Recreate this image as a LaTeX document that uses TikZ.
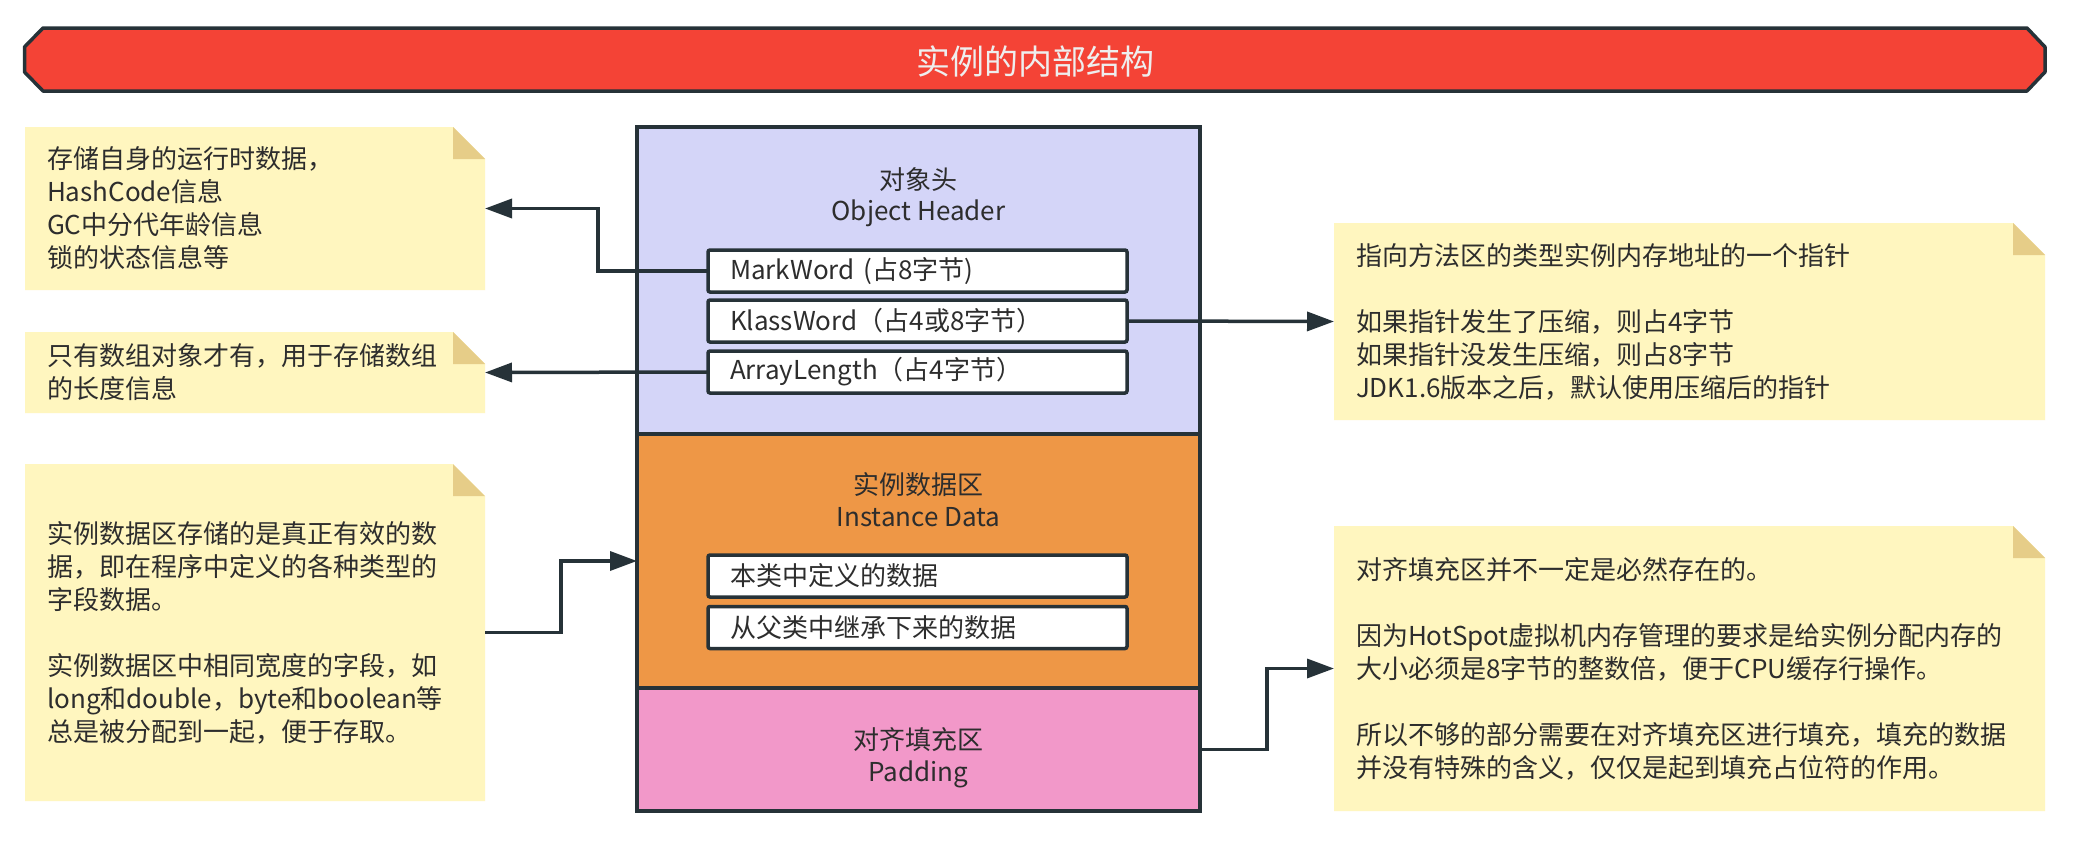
\documentclass[tikz,border=0pt]{standalone}
\usepackage{fontspec}
\setmainfont{Noto Sans CJK SC}
\usetikzlibrary{arrows.meta,calc,backgrounds}
\definecolor{ink}{HTML}{263238}
\definecolor{txt}{HTML}{2D2D2D}
\definecolor{titlered}{HTML}{F44336}
\definecolor{titletext}{HTML}{EEEEEE}
\definecolor{hdrfill}{HTML}{D4D5F8}
\definecolor{insfill}{HTML}{EE9746}
\definecolor{padfill}{HTML}{F298C9}
\definecolor{notefill}{HTML}{FFF6BF}
\definecolor{foldfill}{HTML}{E6CD88}
\tikzset{
  basefont/.style={font=\fontsize{26}{33}\selectfont, text=txt},
  secbox/.style={draw=ink, line width=4pt, minimum width=563pt, inner sep=0pt, outer sep=0pt},
  fieldbox/.style={basefont, draw=ink, fill=white, line width=3.5pt, rounded corners=2pt,
    text width=375pt, align=left, inner xsep=22pt, inner ysep=0pt, minimum height=42pt,
    anchor=west, outer sep=0pt},
  notebox/.style={basefont, align=left, inner xsep=22pt, inner ysep=0pt, outer sep=0pt},
  seclabel/.style={basefont, anchor=base, inner sep=0pt},
  arr/.style={draw=ink, line width=3.5pt, -{Triangle[length=27pt,width=19pt]}},
  notefold/.style={fill=foldfill},
  notebody/.style={fill=notefill},
}
\newcommand{\drawnote}[1]{%
  \fill[notebody] (#1.north west) -- ([xshift=-32pt]#1.north east) -- ([yshift=-32pt]#1.north east)
     -- (#1.south east) -- (#1.south west) -- cycle;
  \fill[notefold] ([xshift=-32pt]#1.north east) -- ([xshift=-32pt,yshift=-32pt]#1.north east)
     -- ([yshift=-32pt]#1.north east) -- cycle;}
\begin{document}
\begin{tikzpicture}[x=1pt,y=-1pt]
\useasboundingbox (0,0) rectangle (2077,846);

% title bar
\path[draw=ink, fill=titlered, line width=3.5pt, line join=round]
  (43,28) -- (2027,28) -- (2045,47) -- (2045,72) -- (2027,91) -- (43,91) -- (24.5,72) -- (24.5,47) -- cycle;
\node[font=\fontsize{34}{40}\selectfont, text=titletext, anchor=base, inner sep=0pt] (title) at (1035,74.5) {实例的内部结构};

% stack
\node[secbox, fill=hdrfill, minimum height=307pt] (hdr) at (918.5,280.5) {};
\node[secbox, fill=insfill, minimum height=254pt] (ins) at (918.5,561) {};
\node[secbox, fill=padfill, minimum height=123pt] (pad) at (918.5,749.5) {};

\node[seclabel] (hdrA) at (918.5,189.5) {对象头};
\node[seclabel] (hdrB) at (918.5,220.5) {Object Header};
\node[seclabel] (insA) at (918.5,494.5) {实例数据区};
\node[seclabel] (insB) at (918.5,526) {Instance Data};
\node[seclabel] (padA) at (918.5,749.5) {对齐填充区};
\node[seclabel] (padB) at (918.5,781.5) {Padding};

\node[fieldbox] (mw) at (708,271) {MarkWord (占8字节)};
\node[fieldbox] (kw) at (708,321) {KlassWord（占4或8字节）};
\node[fieldbox] (al) at (708,372) {ArrayLength（占4字节）};
\node[fieldbox] (f1) at (708,576) {本类中定义的数据};
\node[fieldbox] (f2) at (708,627.5) {从父类中继承下来的数据};

% notes
\node[notebox, text width=416pt, minimum height=163pt] (n1) at (255,208.5)
  {存储自身的运行时数据，\\HashCode信息\\GC中分代年龄信息\\锁的状态信息等};
\node[notebox, text width=416pt, minimum height=81pt] (n2) at (255,372.5)
  {只有数组对象才有，用于存储数组\\的长度信息};
\node[notebox, text width=416pt, minimum height=337pt] (n4) at (255,632.5)
  {实例数据区存储的是真正有效的数\\据，即在程序中定义的各种类型的\\字段数据。\\[33pt]实例数据区中相同宽度的字段，如\\long和double，byte和boolean等\\总是被分配到一起，便于存取。};
\node[notebox, text width=667pt, minimum height=197pt] (n3) at (1689.5,321.5)
  {指向方法区的类型实例内存地址的一个指针\\[33pt]如果指针发生了压缩，则占4字节\\如果指针没发生压缩，则占8字节\\JDK1.6版本之后，默认使用压缩后的指针};
\node[notebox, text width=667pt, minimum height=285pt] (n5) at (1689.5,668.5)
  {对齐填充区并不一定是必然存在的。\\[33pt]因为HotSpot虚拟机内存管理的要求是给实例分配内存的\\大小必须是8字节的整数倍，便于CPU缓存行操作。\\[33pt]所以不够的部分需要在对齐填充区进行填充，填充的数据\\并没有特殊的含义，仅仅是起到填充占位符的作用。};

\begin{scope}[on background layer]
  \fill[white] (0,0) rectangle (2077,846);
  \drawnote{n1}
  \drawnote{n2}
  \drawnote{n3}
  \drawnote{n4}
  \drawnote{n5}
\end{scope}

% connectors
\coordinate (t1) at ($(n1.east)+(113,0)$);
\coordinate (t4) at ($(ins.west)+(-76,0)$);
\coordinate (t5) at ($(n5.west)+(-67,0)$);
\draw[arr] (mw.west) -| (t1) -- (n1.east);
\draw[arr] (al.west) -- (n2.east);
\draw[arr] (kw.east) -- (n3.west);
\draw[arr] (n4.east) -| (t4) -- (ins.west);
\draw[arr] (pad.east) -| (t5) -- (n5.west);
\end{tikzpicture}
\end{document}
